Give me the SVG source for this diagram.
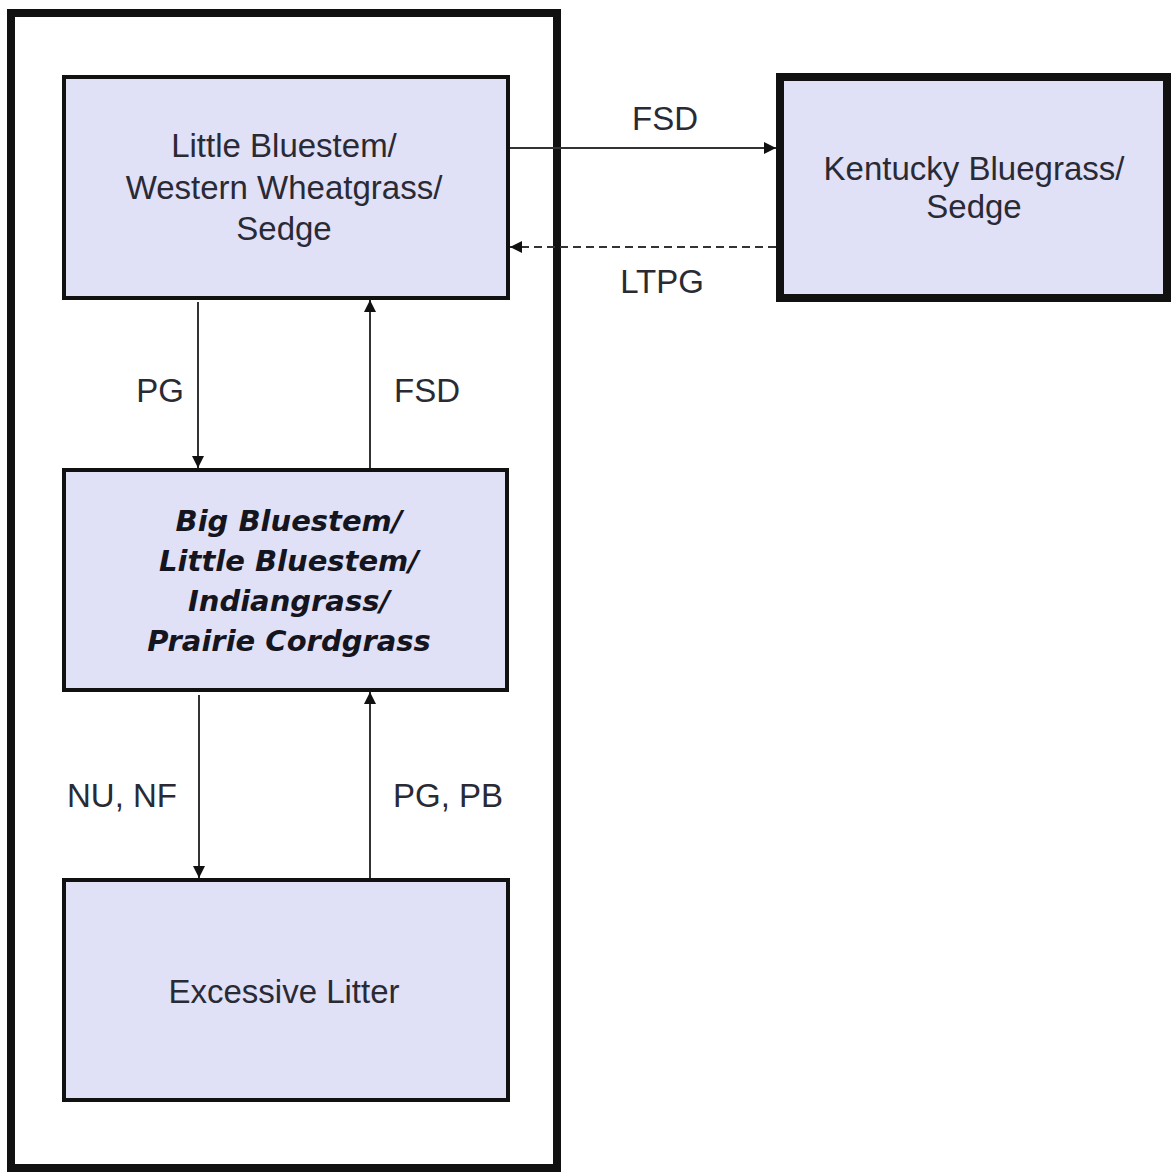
<svg xmlns="http://www.w3.org/2000/svg" width="1171" height="1173" viewBox="0 0 1171 1173">
<defs>
<style>
.node{fill:#E0E0F7;stroke:#111;stroke-width:4}
.thick{fill:#E0E0F7;stroke:#111;stroke-width:8}
.frame{fill:none;stroke:#111;stroke-width:8}
.t{font-family:"Liberation Sans",Arial,sans-serif;font-size:33px;fill:#2a2a35;text-anchor:middle}
.bi{font-family:"DejaVu Sans",Verdana,sans-serif;font-size:29px;font-weight:bold;font-style:italic;fill:#151520;text-anchor:middle}
.edge{fill:none;stroke:#333;stroke-width:2}
.dash{stroke-dasharray:8,5}
</style>
<marker id="ah" viewBox="0 0 12 12" refX="12" refY="6" markerWidth="12" markerHeight="12" markerUnits="userSpaceOnUse" orient="auto">
<path d="M0,0 L12,6 L0,12 Z" fill="#111"/>
</marker>
</defs>
<rect width="1171" height="1173" fill="#fff"/>
<g id="frame"><rect class="frame" x="11" y="13" width="546" height="1155"/></g>
<g id="n1">
<rect class="node" x="64" y="77" width="444" height="221"/>
<text class="t" x="284" y="157">Little Bluestem/</text>
<text class="t" x="284" y="199">Western Wheatgrass/</text>
<text class="t" x="284" y="240">Sedge</text>
</g>
<g id="n2">
<rect class="thick" x="780" y="77" width="387" height="221"/>
<text class="t" x="974" y="180">Kentucky Bluegrass/</text>
<text class="t" x="974" y="218">Sedge</text>
</g>
<g id="n3">
<rect class="node" x="64" y="470" width="443" height="220"/>
<text class="bi" x="289" y="531">Big Bluestem/</text>
<text class="bi" x="289" y="571">Little Bluestem/</text>
<text class="bi" x="289" y="611">Indiangrass/</text>
<text class="bi" x="289" y="651">Prairie Cordgrass</text>
</g>
<g id="n4">
<rect class="node" x="64" y="880" width="444" height="220"/>
<text class="t" x="284" y="1003">Excessive Litter</text>
</g>
<g id="connectors">
<line class="edge" x1="510" y1="148" x2="776" y2="148" marker-end="url(#ah)"/>
<line class="edge dash" x1="776" y1="247" x2="510" y2="247" marker-end="url(#ah)"/>
<line class="edge" x1="198" y1="302" x2="198" y2="468" marker-end="url(#ah)"/>
<line class="edge" x1="370" y1="468" x2="370" y2="300" marker-end="url(#ah)"/>
<line class="edge" x1="199" y1="695" x2="199" y2="878" marker-end="url(#ah)"/>
<line class="edge" x1="370" y1="878" x2="370" y2="692" marker-end="url(#ah)"/>
<text class="t" x="665" y="130">FSD</text>
<text class="t" x="662" y="293">LTPG</text>
<text class="t" x="160" y="402">PG</text>
<text class="t" x="427" y="402">FSD</text>
<text class="t" x="122" y="807">NU, NF</text>
<text class="t" x="448" y="807">PG, PB</text>
</g>
</svg>
